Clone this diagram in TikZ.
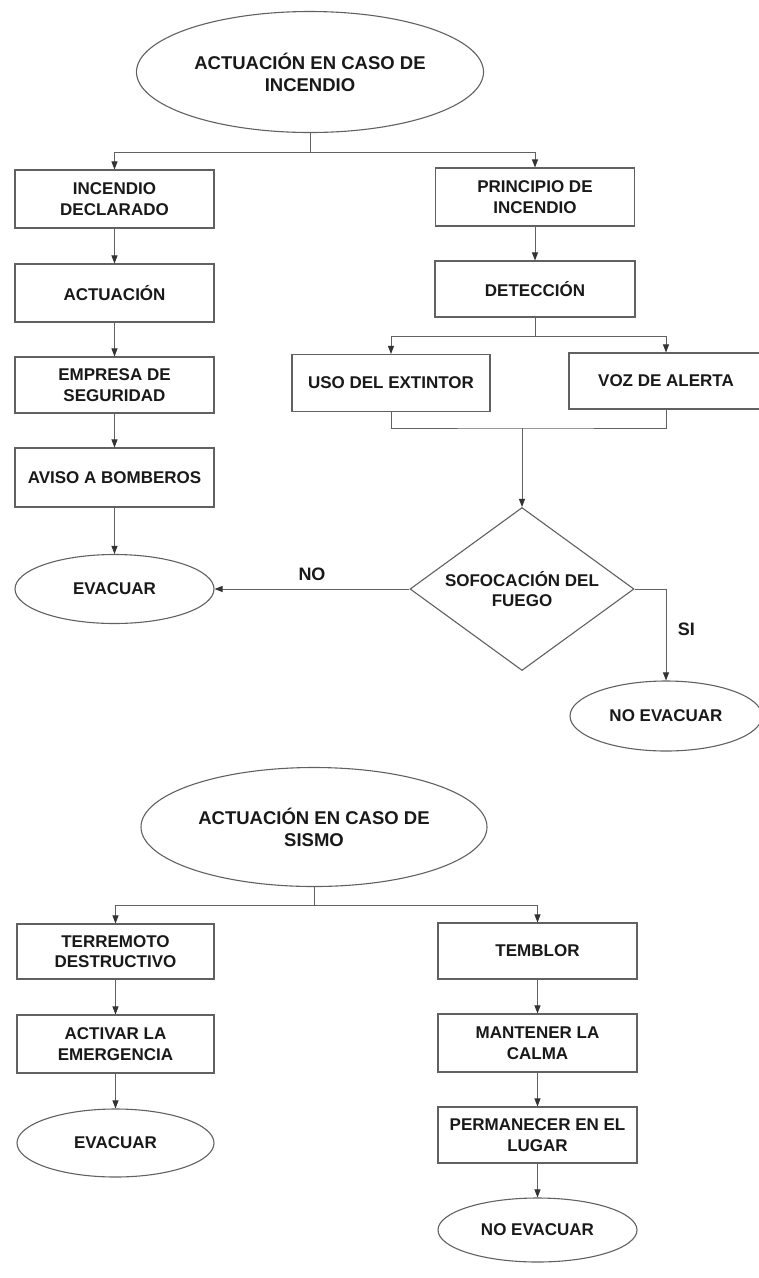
\documentclass[tikz,border=0pt]{standalone}
\usepackage{fontspec}
\setmainfont{Liberation Sans}
\usetikzlibrary{shapes.geometric,arrows.meta}
\tikzset{
  base/.style={draw=black!62, line width=1.1pt, fill=white, text=black!90, align=center, inner sep=0pt,
               font=\bfseries\fontsize{17}{20.5}\selectfont},
  stepbox/.style={base, rectangle},
  oval/.style={base, ellipse},
  titleoval/.style={base, ellipse, font=\bfseries\fontsize{18.5}{22}\selectfont},
  decision/.style={base, diamond, aspect=1.37},
  conn/.style={draw=black!62, line width=0.9pt},
  arr/.style={conn, -{Triangle[length=8pt,width=6pt,color=black!80]}},
  lbl/.style={text=black!90, font=\bfseries\fontsize{18}{21}\selectfont}
}
\begin{document}
\begin{tikzpicture}[x=1pt,y=-1pt]
\fill[white] (0,0) rectangle (759,1278);
\path[use as bounding box] (0,0) rectangle (759,1278);

% ---------- INCENDIO ----------
\node[titleoval, minimum width=347pt, minimum height=121pt] (t1) at (310,72) {ACTUACIÓN EN CASO DE\\INCENDIO};

\node[stepbox, minimum width=199pt, minimum height=58pt] (a1) at (114.5,199) {INCENDIO\\DECLARADO};
\node[stepbox, minimum width=199pt, minimum height=58pt] (a2) at (114.5,293) {ACTUACIÓN};
\node[stepbox, minimum width=199pt, minimum height=56pt] (a3) at (114.5,385) {EMPRESA DE\\SEGURIDAD};
\node[stepbox, minimum width=199pt, minimum height=59pt] (a4) at (114.5,477.5) {AVISO A BOMBEROS};
\node[oval, minimum width=199pt, minimum height=69pt] (a5) at (114.5,589) {EVACUAR};

\node[stepbox, minimum width=199pt, minimum height=58pt] (b1) at (535,197) {PRINCIPIO DE\\INCENDIO};
\node[stepbox, minimum width=200pt, minimum height=56pt] (b2) at (535,289) {DETECCIÓN};

\node[stepbox, minimum width=198pt, minimum height=57pt] (c1) at (391,383) {USO DEL EXTINTOR};
\node[stepbox, minimum width=194pt, minimum height=56pt] (c2) at (666,381) {VOZ DE ALERTA};

\node[decision, minimum width=224pt, minimum height=163pt] (d) at (522,589) {SOFOCACIÓN DEL\\FUEGO};
\node[oval, minimum width=192pt, minimum height=70pt] (e1) at (666,716) {NO EVACUAR};

\coordinate (j1) at (310,152);
\draw[conn] (t1.south) -- (j1);
\draw[arr] (j1) -| (a1.north);
\draw[arr] (j1) -| (b1.north);
\draw[arr] (a1) -- (a2);
\draw[arr] (a2) -- (a3);
\draw[arr] (a3) -- (a4);
\draw[arr] (a4) -- (a5);
\draw[arr] (b1) -- (b2);

\coordinate (j2) at (535,336);
\draw[conn] (b2.south) -- (j2);
\draw[arr] (j2) -| (c1.north);
\draw[arr] (j2) -| (c2.north);

\coordinate (m) at (522,428);
\draw[conn] (c1.south) |- (m) -| (c2.south);
\draw[arr] (m) -- (d.north);

\draw[arr] (d.west) -- (a5.east) node[lbl, pos=0.5, above=5pt] (no) {NO};
\draw[arr] (d.east) -| (e1.north) node[lbl, pos=0.72, right=8pt] (si) {SI};

% ---------- SISMO ----------
\node[titleoval, minimum width=346pt, minimum height=119pt] (t2) at (314,827) {ACTUACIÓN EN CASO DE\\SISMO};

\node[stepbox, minimum width=197pt, minimum height=55pt] (s1) at (115.5,951.5) {TERREMOTO\\DESTRUCTIVO};
\node[stepbox, minimum width=197pt, minimum height=58pt] (s2) at (115.5,1044) {ACTIVAR LA\\EMERGENCIA};
\node[oval, minimum width=197pt, minimum height=68pt] (s3) at (115.5,1143) {EVACUAR};

\node[stepbox, minimum width=199pt, minimum height=56pt] (r1) at (537.5,951) {TEMBLOR};
\node[stepbox, minimum width=199pt, minimum height=58pt] (r2) at (537.5,1043) {MANTENER LA\\CALMA};
\node[stepbox, minimum width=199pt, minimum height=56pt] (r3) at (537.5,1135) {PERMANECER EN EL\\LUGAR};
\node[oval, minimum width=199pt, minimum height=64pt] (r4) at (537.5,1230) {NO EVACUAR};

\coordinate (j3) at (314,905);
\draw[conn] (t2.south) -- (j3);
\draw[arr] (j3) -| (s1.north);
\draw[arr] (j3) -| (r1.north);
\draw[arr] (s1) -- (s2);
\draw[arr] (s2) -- (s3);
\draw[arr] (r1) -- (r2);
\draw[arr] (r2) -- (r3);
\draw[arr] (r3) -- (r4);
\end{tikzpicture}
\end{document}
